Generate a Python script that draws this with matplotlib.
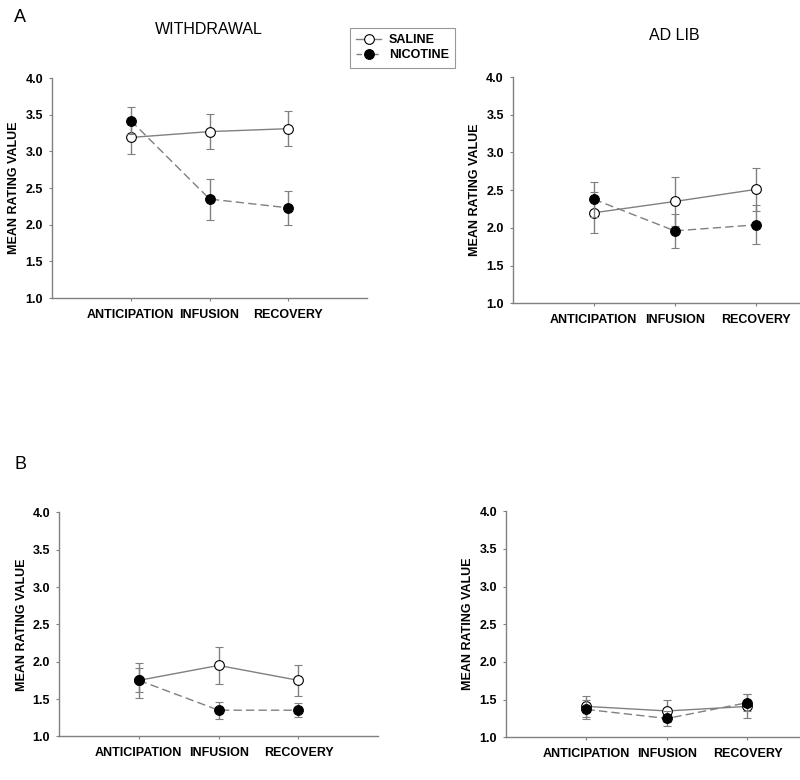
import matplotlib
matplotlib.use('Agg')
import matplotlib.pyplot as plt
from matplotlib.lines import Line2D

plt.rcParams['font.family'] = ['Liberation Sans', 'DejaVu Sans']

phases = ["ANTICIPATION", "INFUSION", "RECOVERY"]
xpos = [1, 2, 3]

# withdrawal (panel A, left)
wd_saline = [3.19, 3.27, 3.31]
wd_saline_se = [0.22, 0.24, 0.235]
wd_nic = [3.42, 2.35, 2.23]
wd_nic_se = [0.18, 0.28, 0.235]

# ad lib (panel A, right)
al_saline = [2.20, 2.35, 2.51]
al_saline_se = [0.27, 0.32, 0.285]
al_nic = [2.38, 1.96, 2.04]
al_nic_se = [0.23, 0.23, 0.26]

# panel B, left
bl_saline = [1.75, 1.95, 1.75]
bl_saline_se = [0.23, 0.25, 0.21]
bl_nic = [1.75, 1.35, 1.35]
bl_nic_se = [0.16, 0.115, 0.095]

# panel B, right
br_saline = [1.41, 1.35, 1.41]
br_saline_se = [0.14, 0.15, 0.16]
br_nic = [1.37, 1.25, 1.46]
br_nic_se = [0.13, 0.10, 0.11]

yticks = [1.0, 1.5, 2.0, 2.5, 3.0, 3.5, 4.0]

GREY = "#808080"
FS = 9

fig = plt.figure(figsize=(8, 7.8), dpi=100)

panels = [
    ([0.065, 0.6179, 0.394, 0.282], wd_saline, wd_saline_se, wd_nic, wd_nic_se),
    ([0.641, 0.6112, 0.405, 0.290], al_saline, al_saline_se, al_nic, al_nic_se),
    ([0.0738, 0.056, 0.399, 0.287], bl_saline, bl_saline_se, bl_nic, bl_nic_se),
    ([0.6325, 0.0547, 0.4025, 0.290], br_saline, br_saline_se, br_nic, br_nic_se),
]

axes = []
for rect, sal, sal_se, nic, nic_se in panels:
    ax = fig.add_axes(rect)
    ax.errorbar(xpos, sal, yerr=sal_se, color=GREY, lw=1.0, ecolor=GREY,
                elinewidth=1.0, capsize=2.7, capthick=1.0, marker='o',
                markersize=7, markerfacecolor='white', markeredgecolor='black',
                markeredgewidth=0.8, zorder=3)
    ax.errorbar(xpos, nic, yerr=nic_se, color=GREY, lw=1.0, ls=(0, (6, 3)),
                ecolor=GREY, elinewidth=1.0, capsize=2.7, capthick=1.0,
                marker='o', markersize=7, markerfacecolor='black',
                markeredgecolor='black', markeredgewidth=0.8, zorder=4)
    ax.set_xlim(0, 4)
    ax.set_ylim(1.0, 4.0)
    ax.set_yticks(yticks)
    ax.set_yticklabels([f"{v:.1f}" for v in yticks], fontweight='bold', fontsize=FS)
    ax.set_xticks(xpos)
    ax.set_xticklabels(phases, fontweight='bold', fontsize=FS)
    ax.tick_params(axis='both', length=2.5, width=0.8, color=GREY, pad=4)
    ax.tick_params(axis='x', pad=5.5)
    for s in ['top', 'right']:
        ax.spines[s].set_visible(False)
    for s in ['left', 'bottom']:
        ax.spines[s].set_color(GREY)
        ax.spines[s].set_linewidth(1.0)
    ax.set_ylabel("MEAN RATING VALUE", fontweight='bold', fontsize=FS, labelpad=3.5)
    axes.append(ax)

fig.text(0.0175, 0.978, "A", fontsize=13, ha='left', va='center')
fig.text(0.0175, 0.404, "B", fontsize=13, ha='left', va='center')
fig.text(209 / 800, 1 - 30 / 780, "WITHDRAWAL", fontsize=11.5, ha='center', va='center')
fig.text(674 / 800, 1 - 36 / 780, "AD LIB", fontsize=11.5, ha='center', va='center')

handles = [
    Line2D([], [], color=GREY, lw=1.0, marker='o', markersize=7,
           markerfacecolor='white', markeredgecolor='black', markeredgewidth=0.8),
    Line2D([], [], color=GREY, lw=1.0, ls=(0, (4, 2)), marker='o', markersize=7,
           markerfacecolor='black', markeredgecolor='black', markeredgewidth=0.8),
]
leg = fig.legend(handles, ["SALINE", "NICOTINE"], loc='upper left',
                 bbox_to_anchor=(350 / 800, 1 - 28 / 780),
                 prop={'weight': 'bold', 'size': FS}, frameon=True,
                 fancybox=False, handlelength=2.0, handletextpad=0.6,
                 borderpad=0.5, labelspacing=0.25, borderaxespad=0)
leg.get_frame().set_edgecolor(GREY)
leg.get_frame().set_linewidth(0.8)

fig.savefig("out.png", dpi=100)
